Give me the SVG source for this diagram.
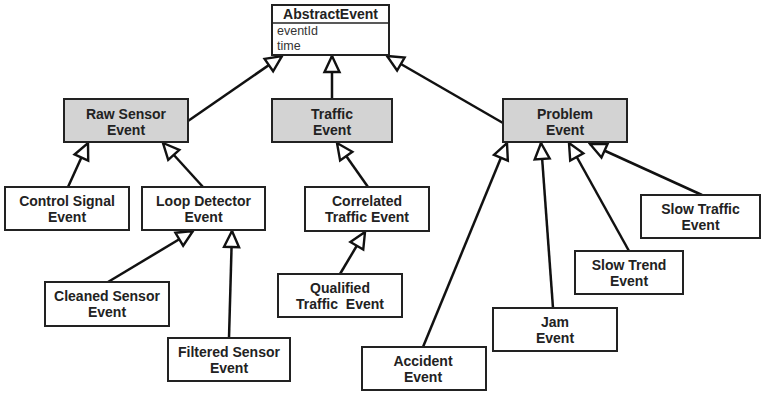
<svg xmlns="http://www.w3.org/2000/svg" width="762" height="393" viewBox="0 0 762 393">
<style>
.box{fill:#fff;stroke:#222;stroke-width:2}
.gbox{fill:#d3d3d3;stroke:#222;stroke-width:2}
.t{font-family:"Liberation Sans",Arial,sans-serif;font-weight:bold;font-size:14px;fill:#222;text-anchor:middle}
.a{font-family:"Liberation Sans",Arial,sans-serif;font-size:12.5px;fill:#333}
.c{stroke:#111;stroke-width:2.5;fill:none;marker-end:url(#tri)}
</style>
<defs>
<marker id="tri" viewBox="0 0 20 20" refX="18" refY="10" markerWidth="20" markerHeight="20" orient="auto" markerUnits="userSpaceOnUse">
<path d="M2,2.5 L18,10 L2,17.5 Z" fill="#fff" stroke="#111" stroke-width="2.4" stroke-linejoin="miter"/>
</marker>
</defs>
<g id="connectors">
<line class="c" x1="188" y1="121" x2="282" y2="56"/>
<line class="c" x1="332" y1="99" x2="332" y2="56"/>
<line class="c" x1="503" y1="123" x2="387" y2="56"/>
<line class="c" x1="68" y1="187" x2="88" y2="143"/>
<line class="c" x1="203" y1="187" x2="163" y2="143"/>
<line class="c" x1="368" y1="187" x2="337" y2="143"/>
<line class="c" x1="340" y1="274" x2="365" y2="232"/>
<line class="c" x1="108" y1="282" x2="193" y2="231"/>
<line class="c" x1="229" y1="338" x2="232" y2="231"/>
<line class="c" x1="423" y1="347" x2="507" y2="143"/>
<line class="c" x1="553" y1="308" x2="541" y2="143"/>
<line class="c" x1="629" y1="251" x2="569" y2="143"/>
<line class="c" x1="702" y1="195" x2="590" y2="144"/>
</g>
<g id="abstractEvent">
<rect class="box" x="272" y="5" width="117" height="50"/>
<line x1="272" y1="23" x2="389" y2="23" stroke="#222" stroke-width="1.5"/>
<text class="t" x="330.5" y="19">AbstractEvent</text>
<text class="a" x="277" y="35">eventId</text>
<text class="a" x="277" y="50">time</text>
</g>
<g id="rawSensor">
<rect class="gbox" x="64" y="99" width="124" height="43"/>
<text class="t" x="126" y="119">Raw Sensor</text>
<text class="t" x="126" y="135">Event</text>
</g>
<g id="traffic">
<rect class="gbox" x="272" y="99" width="120" height="43"/>
<text class="t" x="332" y="119">Traffic</text>
<text class="t" x="332" y="135">Event</text>
</g>
<g id="problem">
<rect class="gbox" x="503" y="99" width="124" height="43"/>
<text class="t" x="565" y="119">Problem</text>
<text class="t" x="565" y="135">Event</text>
</g>
<g id="controlSignal">
<rect class="box" x="5" y="187" width="124" height="43"/>
<text class="t" x="67" y="206">Control Signal</text>
<text class="t" x="67" y="222">Event</text>
</g>
<g id="loopDetector">
<rect class="box" x="142" y="187" width="123" height="43"/>
<text class="t" x="203.5" y="206">Loop Detector</text>
<text class="t" x="203.5" y="222">Event</text>
</g>
<g id="correlatedTraffic">
<rect class="box" x="305" y="187" width="124" height="44"/>
<text class="t" x="367" y="206">Correlated</text>
<text class="t" x="367" y="222">Traffic Event</text>
</g>
<g id="qualifiedTraffic">
<rect class="box" x="278" y="274" width="124" height="43"/>
<text class="t" x="340" y="293">Qualified</text>
<text class="t" x="340" y="309" xml:space="preserve">Traffic  Event</text>
</g>
<g id="cleanedSensor">
<rect class="box" x="45" y="282" width="124" height="44"/>
<text class="t" x="107" y="301">Cleaned Sensor</text>
<text class="t" x="107" y="317">Event</text>
</g>
<g id="filteredSensor">
<rect class="box" x="168" y="338" width="122" height="43"/>
<text class="t" x="229" y="357">Filtered Sensor</text>
<text class="t" x="229" y="373">Event</text>
</g>
<g id="accident">
<rect class="box" x="362" y="347" width="124" height="43"/>
<text class="t" x="423" y="366">Accident</text>
<text class="t" x="423" y="382">Event</text>
</g>
<g id="jam">
<rect class="box" x="493" y="308" width="124" height="43"/>
<text class="t" x="555" y="327">Jam</text>
<text class="t" x="555" y="343">Event</text>
</g>
<g id="slowTrend">
<rect class="box" x="575" y="251" width="108" height="43"/>
<text class="t" x="629" y="270">Slow Trend</text>
<text class="t" x="629" y="286">Event</text>
</g>
<g id="slowTraffic">
<rect class="box" x="641" y="195" width="119" height="43"/>
<text class="t" x="700.5" y="214">Slow Traffic</text>
<text class="t" x="700.5" y="230">Event</text>
</g>
</svg>
